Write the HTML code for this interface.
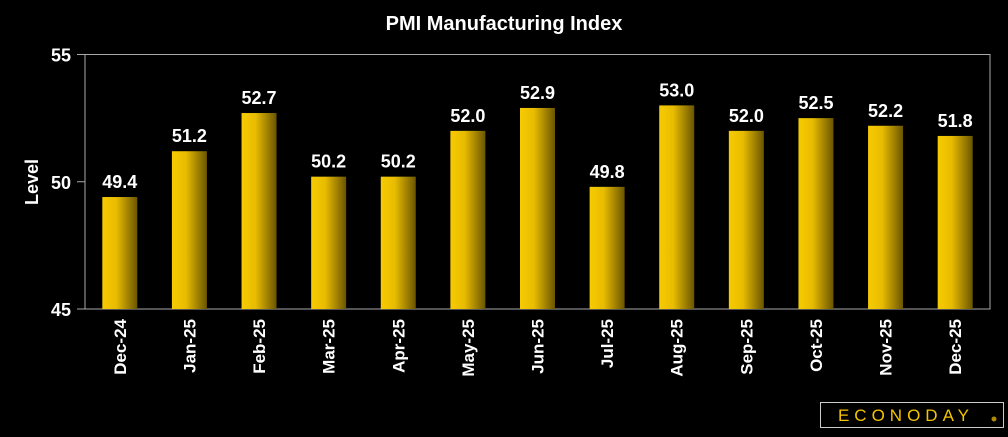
<!DOCTYPE html>
<html><head><meta charset="utf-8"><style>
body{margin:0;background:#000;width:1008px;height:432px;overflow:hidden;font-family:"Liberation Sans",sans-serif}
</style></head><body>
<svg id="c" width="1008" height="432">
<defs><linearGradient id="g" x1="0" x2="1" y1="0" y2="0"><stop offset="0" stop-color="#f7cb00"/><stop offset="0.4" stop-color="#e8bc00"/><stop offset="1" stop-color="#6a5500"/></linearGradient></defs>
<text x="504" y="30" fill="#fff" font-size="20" font-weight="bold" text-anchor="middle">PMI Manufacturing Index</text>
<text transform="translate(38,182) rotate(-90)" fill="#fff" font-size="18" font-weight="bold" text-anchor="middle">Level</text>
<rect x="85" y="54.5" width="905" height="254.5" fill="none" stroke="#aaa" stroke-width="1"/>
<g id="bars"></g>
<rect x="820.5" y="402.5" width="183" height="25" fill="none" stroke="#ccc" stroke-width="1"/>
<text x="906" y="421" fill="#f5c400" font-size="17" text-anchor="middle" letter-spacing="5">ECONODAY</text>
<circle cx="994" cy="419" r="2.5" fill="#b08a00"/>
</svg>
<script>
const categories=["Dec-24","Jan-25","Feb-25","Mar-25","Apr-25","May-25","Jun-25","Jul-25","Aug-25","Sep-25","Oct-25","Nov-25","Dec-25"];
const values=[49.4,51.2,52.7,50.2,50.2,52.0,52.9,49.8,53.0,52.0,52.5,52.2,51.8];
const yTicks=[45,50,55];
const NS="http://www.w3.org/2000/svg";
const x0=85,x1=990,yTop=54.5,yBot=309,ymin=45,ymax=55;
const step=(x1-x0)/categories.length;
function y(v){return yBot-(v-ymin)/(ymax-ymin)*(yBot-yTop);}
function xc(i){return x0+step*(i+0.5);}
const svg=document.getElementById('c');
function mk(t,a){const e=document.createElementNS(NS,t);for(const k in a)e.setAttribute(k,a[k]);return e;}
yTicks.forEach(t=>{
 const l=mk('line',{x1:x0-8,x2:x0,y1:y(t),y2:y(t),stroke:'#aaa'});
 
 
 svg.appendChild(l);
 const tx=mk('text',{x:x0-14,y:y(t)+7,fill:'#fff','font-size':18,'font-weight':'bold','text-anchor':'end'});
 tx.textContent=t;
 
 
 svg.appendChild(tx);
});
const g=document.getElementById('bars');
values.forEach((v,i)=>{
 const r=mk('rect',{x:xc(i)-17.5,y:y(v),width:35,height:yBot-y(v),fill:'url(#g)'});
 
 
 g.appendChild(r);
 const t=mk('text',{x:xc(i),y:y(v)-9,fill:'#fff','font-size':18,'font-weight':'bold','text-anchor':'middle'});
 t.textContent=v.toFixed(1);
 
 
 g.appendChild(t);
 const c=mk('text',{transform:`translate(${xc(i)+6},${yBot+10}) rotate(-90)`,fill:'#fff','font-size':17,'font-weight':'bold','text-anchor':'end'});
 c.textContent=categories[i];
 
 
 g.appendChild(c);
});
</script>
</body></html>
